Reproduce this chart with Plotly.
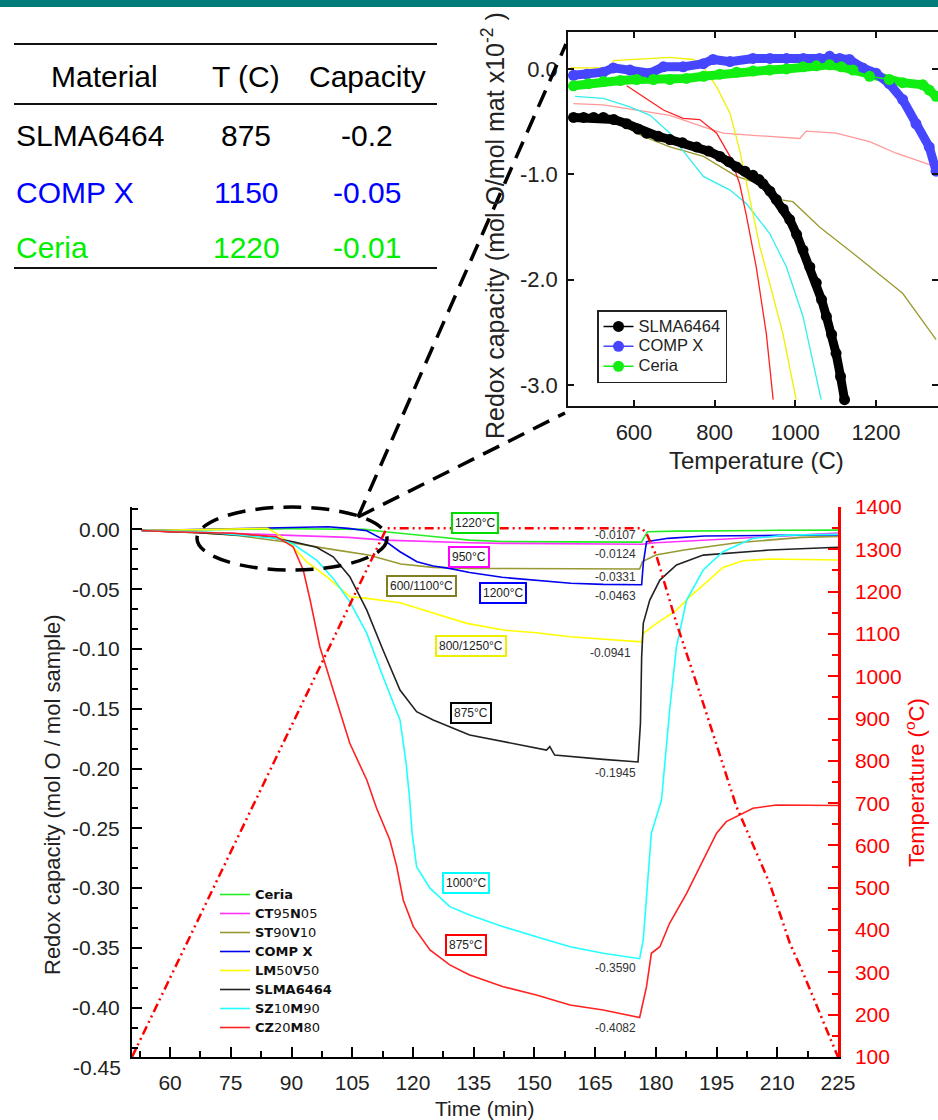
import plotly.graph_objects as go

W, H = 938, 1120
FONT = "Arial, Liberation Sans, sans-serif"

# ---------------- summary table ----------------
table_header = ["Material", "T (C)", "Capacity"]
table_materials = ["SLMA6464", "COMP X", "Ceria"]
table_temps = ["875", "1150", "1220"]
table_caps = ["-0.2", "-0.05", "-0.01"]
table_colors = ["#000000", "#0000ff", "#00ee00"]

# ---------------- main chart: redox capacity vs time (min) ----------------
ceria_t = [53, 60, 75, 90, 100, 108, 113, 120, 125, 134, 142, 159, 170, 176.5, 177.2, 178, 185, 192, 210, 228]
ceria_v = [-0.001, -0.0005, 0, 0.0005, 0.0005, 0, -0.002, -0.004, -0.006, -0.009, -0.0102, -0.0105, -0.0107,
           -0.0107, -0.006, -0.002, -0.0015, -0.0012, -0.0008, -0.0006]

ct95_t = [53, 60, 75, 92, 104, 113, 125, 134, 142, 159, 170, 176.5, 180, 192, 208, 228]
ct95_v = [-0.001, -0.002, -0.0033, -0.0056, -0.0067, -0.009, -0.0104, -0.0112, -0.0117, -0.012, -0.0122,
          -0.0124, -0.0112, -0.009, -0.0056, -0.0025]

st90_t = [53, 60, 67, 76, 90, 100, 109, 117, 125, 134, 150, 165, 176, 176.7, 180, 187, 200, 216, 228]
st90_v = [-0.001, -0.002, -0.0028, -0.0048, -0.0112, -0.0167, -0.0215, -0.029, -0.0318, -0.0326, -0.033,
          -0.0331, -0.0331, -0.027, -0.0215, -0.0173, -0.0112, -0.0067, -0.0056]

compx_t = [53, 60, 67, 84, 99, 104, 108.6, 112.6, 116.8, 121, 125, 129, 134, 142, 150, 159, 167, 176.5,
           176.9, 177.7, 183, 192, 210, 228]
compx_v = [-0.001, -0.0005, 0, 0.0017, 0.0022, 0.0008, -0.0012, -0.0084, -0.0187, -0.027, -0.0307, -0.0326,
           -0.036, -0.0401, -0.0424, -0.0451, -0.046, -0.0463, -0.0284, -0.0104, -0.0075, -0.0056, -0.005, -0.0047]

lm50_t = [53, 60, 70, 84, 86.3, 89.6, 93.7, 98.7, 104.4, 108.6, 116.8, 125, 133.3, 142.3, 150.5, 158.8, 167,
          176.5, 176.9, 180.2, 185.1, 188.4, 191.7, 196.6, 201.5, 208.1, 228]
lm50_v = [-0.001, -0.0005, 0, 0.0008, -0.0033, -0.0117, -0.027, -0.0396, -0.0563, -0.0577, -0.0613, -0.0702,
          -0.0786, -0.0842, -0.0864, -0.0898, -0.092, -0.0941, -0.087, -0.0786, -0.0675, -0.0563, -0.0466,
          -0.0318, -0.0262, -0.0248, -0.0257]

slma_t = [53, 60, 67, 84, 90.4, 96.2, 100.3, 104.4, 108.6, 112.6, 116.8, 120.9, 125, 134, 142.3, 153, 153.8,
          155, 167, 175.6, 176.2, 176.5, 176.9, 178.5, 181, 185.1, 191.7, 208.1, 228]
slma_v = [-0.001, -0.002, -0.0028, -0.0062, -0.0104, -0.015, -0.0229, -0.0396, -0.0675, -0.1009, -0.1343,
          -0.1525, -0.1594, -0.172, -0.1776, -0.1845, -0.1817, -0.1887, -0.1923, -0.1945, -0.1622, -0.1065,
          -0.0786, -0.0591, -0.0424, -0.0298, -0.0215, -0.0173, -0.0145]

sz10_t = [53, 60, 70, 86.3, 90.4, 96.2, 100.3, 104.4, 108.6, 112.6, 116.8, 118.3, 119.2, 119.8, 120.9, 124.2,
          129.1, 134, 142.3, 150.5, 158.8, 167, 176, 176.9, 177.7, 178.9, 181.4, 183.5, 185.1, 187.6, 191.7,
          196.6, 204, 212.2, 228]
sz10_v = [-0.001, -0.0015, -0.0025, -0.0075, -0.0123, -0.0257, -0.041, -0.0605, -0.087, -0.1232, -0.1594,
          -0.195, -0.226, -0.254, -0.282, -0.3, -0.3155, -0.3225, -0.3322, -0.3406, -0.349, -0.3545, -0.359,
          -0.343, -0.3043, -0.254, -0.2263, -0.1483, -0.0981, -0.0591, -0.034, -0.0187, -0.0075, -0.0048, -0.004]

cz20_t = [53, 60, 75.6, 86.3, 90.4, 92.9, 94.6, 97, 100.3, 104.4, 108.6, 111, 114.3, 116, 117.6, 120.1, 124.2,
          129.1, 134, 142.3, 150.5, 158.8, 167, 176, 177.7, 178.9, 181, 183.4, 187.6, 191.7, 195, 197.4, 204,
          209.8, 228]
cz20_v = [-0.001, -0.002, -0.0033, -0.0062, -0.0145, -0.034, -0.0591, -0.0981, -0.1343, -0.1789, -0.2096,
          -0.233, -0.2597, -0.282, -0.3099, -0.3322, -0.3517, -0.3642, -0.3726, -0.3824, -0.3893, -0.3977,
          -0.4019, -0.4082, -0.3824, -0.3545, -0.349, -0.3294, -0.3043, -0.2765, -0.2541, -0.2444, -0.2332,
          -0.2305, -0.231]

# furnace temperature program (right axis)
temp_t = [50.6, 113.5, 176.5, 177.7, 180.2, 185.1, 191.7, 199.9, 208.1, 213.1, 216.4, 220.5, 225]
temp_c = [100, 1350, 1350, 1338, 1283, 1125, 936, 692, 511, 369, 298, 203, 100]

main_series = [
    ("<b>Ceria</b>", ceria_t, ceria_v, "#22ee22"),
    ("<b>CT</b>95<b>N</b>05", ct95_t, ct95_v, "#ff33ff"),
    ("<b>ST</b>90<b>V</b>10", st90_t, st90_v, "#999933"),
    ("<b>COMP X</b>", compx_t, compx_v, "#0000ee"),
    ("<b>LM</b>50<b>V</b>50", lm50_t, lm50_v, "#ffff00"),
    ("<b>SLMA6464</b>", slma_t, slma_v, "#222222"),
    ("<b>SZ</b>10<b>M</b>90", sz10_t, sz10_v, "#22ffff"),
    ("<b>CZ</b>20<b>M</b>80", cz20_t, cz20_v, "#ff2222"),
]

# tick labels (hyphen minus, as in the original)
main_yticks = [0.0, -0.05, -0.10, -0.15, -0.20, -0.25, -0.30, -0.35, -0.40]
main_yticktext = ["0.00", "-0.05", "-0.10", "-0.15", "-0.20", "-0.25", "-0.30", "-0.35", "-0.40"]
inset_yticks = [0.0, -1.0, -2.0, -3.0]
inset_yticktext = ["0.0", "-1.0", "-2.0", "-3.0"]

# boxed condition labels and minimum values
box_labels = ["1220°C", "950°C", "600/1100°C", "1200°C", "800/1250°C", "875°C", "1000°C", "875°C"]
box_t = [135.4, 133.8, 122.1, 142.3, 134.4, 134.3, 133.1, 133.0]
box_v = [0.0053, -0.0227, -0.047, -0.0533, -0.0976, -0.1536, -0.2957, -0.3475]
box_colors = ["#00dd00", "#ff00ff", "#808020", "#0000ff", "#eeee00", "#000000", "#00ffff", "#ff0000"]

min_labels = ["-0.0107", "-0.0124", "-0.0331", "-0.0463", "-0.0941", "-0.1945", "-0.3590", "-0.4082"]
min_t = [170.1, 170.0, 170.0, 170.0, 168.8, 170.0, 170.0, 170.0]
min_v = [-0.0048, -0.0206, -0.0396, -0.0558, -0.1037, -0.204, -0.367, -0.4172]

# ---------------- inset: capacity (x10^-2) vs temperature ----------------
in_slma_T = [450, 475, 500, 524, 550, 582, 610, 631, 660, 689, 720, 755, 785, 813, 835, 854, 875, 895, 910,
             920, 937, 953, 970, 986, 1003, 1019, 1036, 1052, 1065, 1077, 1090, 1101, 1112, 1122]
in_slma_v = [-0.46, -0.46, -0.46, -0.46, -0.48, -0.52, -0.57, -0.61, -0.64, -0.67, -0.70, -0.74, -0.78, -0.83,
             -0.88, -0.93, -0.97, -1.01, -1.05, -1.09, -1.16, -1.24, -1.33, -1.43, -1.57, -1.72, -1.88, -2.03,
             -2.19, -2.35, -2.52, -2.70, -2.92, -3.14]

in_compx_T = [450, 483, 524, 549, 590, 640, 673, 722, 772, 796, 838, 895, 937, 978, 1020, 1060, 1085, 1110,
              1134, 1167, 1200, 1233, 1266, 1299, 1332, 1349]
in_compx_v = [-0.06, -0.05, -0.03, 0.01, -0.01, -0.04, 0.02, 0.02, 0.05, 0.09, 0.07, 0.10, 0.10, 0.10, 0.10,
              0.10, 0.12, 0.10, 0.09, 0.01, -0.04, -0.14, -0.29, -0.52, -0.74, -0.97]

in_ceria_T = [450, 487, 524, 566, 607, 648, 689, 730, 772, 813, 854, 895, 936, 978, 1019, 1052, 1085, 1114,
              1143, 1184, 1233, 1266, 1316, 1332, 1349]
in_ceria_v = [-0.16, -0.14, -0.12, -0.11, -0.10, -0.10, -0.10, -0.09, -0.07, -0.05, -0.03, -0.02, -0.01, 0.0,
              0.02, 0.03, 0.04, 0.02, -0.01, -0.07, -0.10, -0.13, -0.15, -0.20, -0.26]

in_yellow_T = [442, 541, 549, 607, 689, 747, 772, 805, 838, 862, 887, 912, 936, 969, 1002]
in_yellow_v = [0.01, 0.01, 0.08, 0.09, 0.11, 0.09, 0.02, -0.17, -0.42, -0.77, -1.24, -1.69, -2.03, -2.51, -3.14]

in_red_T = [582, 623, 673, 722, 763, 805, 838, 862, 879, 903, 928, 945]
in_red_v = [-0.16, -0.26, -0.39, -0.47, -0.48, -0.61, -0.83, -1.09, -1.40, -1.88, -2.51, -3.14]

in_pink_T = [450, 524, 607, 689, 772, 821, 895, 1011, 1027, 1101, 1184, 1250, 1349]
in_pink_v = [-0.33, -0.34, -0.39, -0.44, -0.55, -0.61, -0.63, -0.66, -0.59, -0.61, -0.69, -0.80, -0.93]

in_cyan_T = [454, 524, 590, 640, 689, 714, 772, 838, 879, 936, 978, 1019, 1064]
in_cyan_v = [-0.26, -0.28, -0.36, -0.44, -0.61, -0.74, -1.02, -1.15, -1.28, -1.56, -1.88, -2.35, -3.14]

in_olive_T = [450, 541, 623, 689, 772, 854, 912, 961, 994, 1060, 1143, 1266, 1349]
in_olive_v = [-0.45, -0.48, -0.64, -0.74, -0.83, -1.02, -1.09, -1.24, -1.26, -1.50, -1.75, -2.13, -2.57]


def px(x):
    return x / W


def py(y):
    return 1 - y / H


def label(x, y, text, size, color="#222", xanchor="center", **kw):
    # text placed in figure (paper) coordinates given in pixels
    return dict(x=px(x), y=py(y), xref="paper", yref="paper", text=text, showarrow=False,
                xanchor=xanchor, yanchor="middle", font=dict(size=size, color=color), **kw)


fig = go.Figure()

# main chart curves
for name, t, v, color in main_series:
    fig.add_trace(go.Scatter(
        x=t, y=v, mode="lines", name=f'<span style="font-size:13px">{name}</span>',
        line=dict(color=color, width=1.6), xaxis="x", yaxis="y", legend="legend"
    ))

fig.add_trace(go.Scatter(
    x=temp_t, y=temp_c, mode="lines", showlegend=False,
    line=dict(color="#ff0000", width=2.5, dash="9px,4px,2px,4px,2px,4px"),
    xaxis="x", yaxis="y2"
))

# inset thin curves
for T, v, color in [(in_pink_T, in_pink_v, "#ff9999"), (in_olive_T, in_olive_v, "#9a9a30"),
                    (in_cyan_T, in_cyan_v, "#33eeee"), (in_red_T, in_red_v, "#ff2020"),
                    (in_yellow_T, in_yellow_v, "#f0f000")]:
    fig.add_trace(go.Scatter(x=T, y=v, mode="lines", showlegend=False,
                             line=dict(color=color, width=1.3), xaxis="x2", yaxis="y3"))

# inset thick marker curves
inset_series = [
    ("SLMA6464", in_slma_T, in_slma_v, "#000000"),
    ("COMP X", in_compx_T, in_compx_v, "#4646ff"),
    ("Ceria", in_ceria_T, in_ceria_v, "#11ee11"),
]
for name, T, v, color in inset_series[::-1]:
    fig.add_trace(go.Scatter(x=T, y=v, mode="lines", showlegend=False,
                             line=dict(color=color, width=9), xaxis="x2", yaxis="y3"))
for name, T, v, color in inset_series:
    fig.add_trace(go.Scatter(
        x=T, y=v, mode="lines+markers", name=f'<span style="font-size:16.5px">{name}</span>',
        line=dict(color=color, width=1.5), marker=dict(color=color, size=11),
        xaxis="x2", yaxis="y3", legend="legend2"
    ))

annotations = []

# table
col_x = [104, 246, 367]
for i, h in enumerate(table_header):
    annotations.append(label(col_x[i], 77, h, 30, "#000"))
row_y = [135, 193, 247]
for i in range(len(table_materials)):
    c = table_colors[i]
    annotations.append(label(14, row_y[i], table_materials[i], 30, c, xanchor="left"))
    annotations.append(label(col_x[1], row_y[i], table_temps[i], 30, c))
    annotations.append(label(col_x[2], row_y[i], table_caps[i], 30, c))

# condition boxes
for lab, t, v, c in zip(box_labels, box_t, box_v, box_colors):
    annotations.append(dict(x=t, y=v, xref="x", yref="y", text=lab, showarrow=False,
                            font=dict(size=12, color="#222"), bgcolor="white",
                            bordercolor=c, borderwidth=2, borderpad=2))
for lab, t, v in zip(min_labels, min_t, min_v):
    annotations.append(dict(x=t, y=v, xref="x", yref="y", text=lab, showarrow=False,
                            font=dict(size=12, color="#333")))

# axis titles (and the -0.45 label, which sits just below the axis end)
annotations += [
    label(52, 795, "Redox capacity (mol O / mol sample)", 22, textangle=-90),
    label(485, 1108, "Time (min)", 21),
    label(915, 783, "Temperature (<sup>o</sup>C)", 22, "#ff0000", textangle=-90),
    label(123, 1067, "-0.45", 21, xanchor="right"),
    label(493, 226, "Redox capacity (mol O/mol mat x10<sup>-2</sup> )", 25, textangle=-90),
    label(756, 460, "Temperature (C)", 24),
]

dash_line = dict(color="black", width=3.5, dash="18px,10px")
shapes = [
    dict(type="rect", xref="paper", yref="paper", x0=0, x1=1, y0=py(7), y1=1,
         fillcolor="#007b7b", line=dict(width=0)),
    dict(type="line", xref="paper", yref="paper", x0=px(14), x1=px(437), y0=py(44), y1=py(44),
         line=dict(color="#111", width=2)),
    dict(type="line", xref="paper", yref="paper", x0=px(14), x1=px(437), y0=py(104), y1=py(104),
         line=dict(color="#111", width=2)),
    dict(type="line", xref="paper", yref="paper", x0=px(14), x1=px(437), y0=py(268), y1=py(268),
         line=dict(color="#111", width=2)),
    dict(type="circle", xref="paper", yref="paper", x0=px(197), x1=px(387), y0=py(570), y1=py(507),
         line=dash_line),
    dict(type="line", xref="paper", yref="paper", x0=px(358), y0=py(517), x1=px(566), y1=py(44),
         line=dash_line),
    dict(type="line", xref="paper", yref="paper", x0=px(358), y0=py(517), x1=px(565), y1=py(413),
         line=dash_line),
]

axis_common = dict(showgrid=False, zeroline=False, showline=True, ticks="inside", automargin=False,
                   tickfont=dict(size=21, color="#222"))

fig.update_layout(
    width=W, height=H, margin=dict(l=0, r=0, t=0, b=0, pad=0, autoexpand=False), autosize=False,
    paper_bgcolor="white", plot_bgcolor="white",
    font=dict(family=FONT, color="#222"),
    xaxis=dict(domain=[px(132), px(838)], range=[50.6, 225], anchor="y", tick0=60, dtick=15,
               linecolor="black", linewidth=2, ticklen=10, tickwidth=2, ticklabelstandoff=6,
               minor=dict(dtick=7.5, ticks="inside", ticklen=6, tickwidth=2, tickcolor="black"),
               tickcolor="black", **axis_common),
    yaxis=dict(domain=[py(1057), py(507)], range=[-0.4412, 0.0187], anchor="x",
               tickvals=main_yticks, ticktext=main_yticktext,
               linecolor="black", linewidth=2, ticklen=10, tickwidth=2, ticklabelstandoff=6,
               minor=dict(dtick=0.05 / 3, tick0=0, ticks="inside", ticklen=6, tickwidth=2, tickcolor="black"),
               tickcolor="black", **axis_common),
    yaxis2=dict(domain=[py(1057), py(507)], range=[100, 1400], overlaying="y", side="right", anchor="x",
                dtick=100, linecolor="#ff0000", linewidth=2.5, ticklen=10, tickwidth=2, tickcolor="#ff0000",
                ticklabelstandoff=10, automargin=False,
                minor=dict(dtick=50, ticks="inside", ticklen=6, tickwidth=2, tickcolor="#ff0000"),
                showgrid=False, zeroline=False, showline=True, ticks="inside",
                tickfont=dict(size=21, color="#ff0000")),
    xaxis2=dict(domain=[px(568), 1.0], range=[436.4, 1353.7], anchor="y3",
                tickvals=[600, 800, 1000, 1200], linecolor="#111", linewidth=1.5, mirror="ticks",
                ticklen=6, tickwidth=1.5, tickcolor="#111", ticklabelstandoff=6, automargin=False,
                showgrid=False, zeroline=False, showline=True, ticks="inside",
                tickfont=dict(size=22, color="#222")),
    yaxis3=dict(domain=[py(406), py(32)], range=[-3.2, 0.351], anchor="x2",
                tickvals=inset_yticks, ticktext=inset_yticktext,
                linecolor="#111", linewidth=1.5, mirror="ticks", ticklen=6, tickwidth=1.5,
                tickcolor="#111", ticklabelstandoff=4, automargin=False,
                showgrid=False, zeroline=False, showline=True, ticks="inside",
                tickfont=dict(size=22, color="#222")),
    legend=dict(x=px(215), y=py(880), xanchor="left", yanchor="top", bgcolor="rgba(0,0,0,0)",
                font=dict(family="DejaVu Sans, sans-serif", size=12, color="#111"), tracegroupgap=0),
    legend2=dict(x=px(597), y=py(310), xanchor="left", yanchor="top", bgcolor="white",
                 bordercolor="#222", borderwidth=1.5,
                 font=dict(family=FONT, size=13, color="#222")),
    annotations=annotations,
    shapes=shapes,
)

# the page body keeps its default 8px margin otherwise, which shifts the figure
fig.write_html("out.html", config={"displayModeBar": False},
               post_script="document.body.style.margin='0';")
